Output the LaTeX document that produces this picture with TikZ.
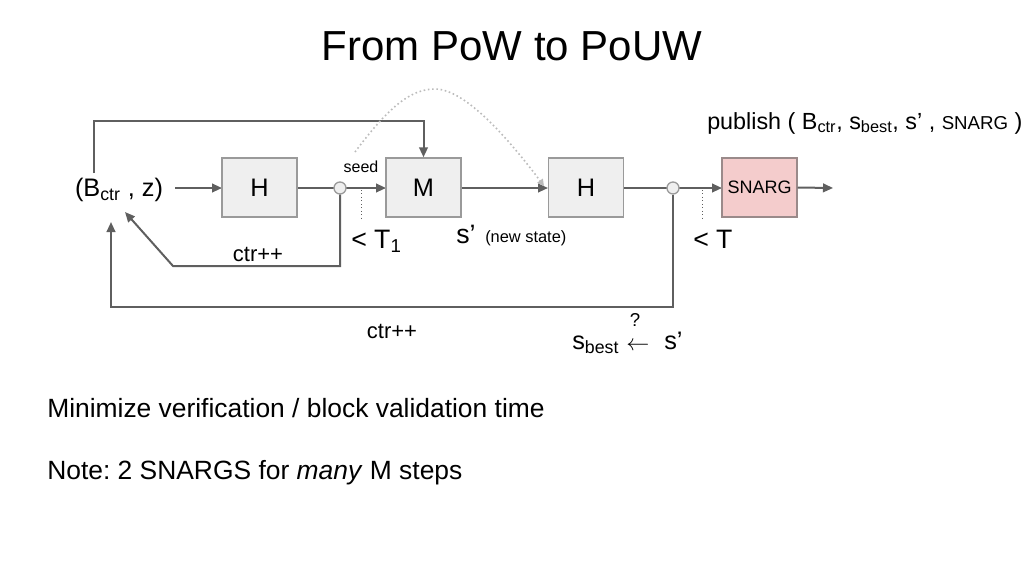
\documentclass[tikz,border=0pt]{standalone}
\usepackage{fontspec}
\setmainfont{Liberation Sans}
\usetikzlibrary{arrows.meta}
\definecolor{lncol}{HTML}{5F5F5F}
\definecolor{boxfill}{HTML}{EFEFEF}
\definecolor{boxdraw}{HTML}{9A9A9A}
\definecolor{snfill}{HTML}{F4CCCC}
\definecolor{sndraw}{HTML}{9A8A8A}
\definecolor{dotcol}{HTML}{BBBBBB}
\newcommand\fsz[1]{\fontsize{#1}{#1}\selectfont}
\frenchspacing
\begin{document}
\begin{tikzpicture}[x=0.75pt,y=-0.75pt,
  blk/.style={draw=boxdraw, fill=boxfill, line width=1.1pt, minimum width=56.25pt, minimum height=44.25pt, inner sep=0pt, font=\fsz{19}},
  snblk/.style={blk, fill=snfill, draw=sndraw, font=\fsz{13.5}},
  junc/.style={circle, draw=boxdraw, fill=boxfill, line width=1pt, minimum size=9pt, inner sep=0pt},
  ln/.style={draw=lncol, line width=1.5pt},
  arr/.style={ln, -{Triangle[length=7.5pt,width=6.5pt]}},
  dotv/.style={draw=lncol, line width=0.6pt, dotted},
  lbl/.style={inner sep=0pt, text=black}]
\useasboundingbox (0,0) rectangle (1024,576);

% title
\node[lbl, font=\fsz{31.5}] (title) at (512,46) {From PoW to PoUW};

% input coordinates
\coordinate (bzout) at (175,188);
\coordinate (bztop) at (94,173);
\coordinate (in1) at (125,212);
\coordinate (in2) at (111,222);
\coordinate (out) at (833,188);
\coordinate (c1p) at (340,188);
\coordinate (c2p) at (673,188);

% connectors first (drawn under the boxes)
\draw[arr] (bzout) -- (222,188);
\draw[ln] (297,188) -- (c1p);
\draw[arr] (c1p) -- (386,188);
\draw[arr] (461,188) -- (548,188);
\draw[ln] (624,188) -- (c2p);
\draw[arr] (c2p) -- (722,188);

% blocks
\node[blk] (h1) at (259.5,187.5) {H};
\node[blk] (m) at (423.5,187.5) {M};
\node[blk] (h2) at (586,187.5) {H};
\node[snblk] (sn) at (759.5,187.5) {SNARG};
\node[junc] (c1) at (c1p) {};
\node[junc] (c2) at (c2p) {};

\node[lbl, font=\fsz{19}] (bz) at (119,190) {(B\textsubscript{ctr} , z)};

\draw[arr] (sn.east) -- (out);

% top feedback into M
\draw[arr] (bztop) -- (94,121) -| (m.north);

% inner loop
\draw[arr] (c1.south) |- (173,266) -- (in1);
% outer loop
\draw[arr] (c2.south) |- (111,307) -- (in2);

% dotted thresholds
\draw[dotv] (361,190) -- (361,221);
\draw[dotv] (702,190) -- (702,221);

% dotted arc
\draw[draw=dotcol, line width=1.2pt, dotted, -{Triangle[length=5pt,width=5pt,fill=dotcol,color=dotcol]}]
  (355,152) .. controls (388,108) and (410,89) .. (435,89) .. controls (465,89) and (508,138) .. (544,186);

% labels
\node[lbl, font=\fsz{12}] (seed) at (361,167) {seed};
\node[lbl, font=\fsz{20}, anchor=base west] (t1) at (351,248) {< T\textsubscript{1}};
\node[lbl, font=\fsz{20}, anchor=base west] (sp) at (456,243) {s’};
\node[lbl, font=\fsz{12.3}, anchor=base west] (ns) at (485,242) {(new state)};
\node[lbl, font=\fsz{20}, anchor=base west] (tt) at (693,248) {< T};
\node[lbl, font=\fsz{16.5}] (ctr1) at (258,254) {ctr++};
\node[lbl, font=\fsz{16.5}] (ctr2) at (392,331) {ctr++};

\node[lbl, font=\fsz{19}, anchor=base west] (sb) at (572,349) {s\textsubscript{best}};
\node[lbl, font=\fsz{19}, anchor=base] (la) at (638,350) {$\smash{\leftarrow}$};
\node[lbl, font=\fsz{14}] (qm) at (635,320) {?};
\node[lbl, font=\fsz{19}, anchor=base west] (sp2) at (664,349) {s’};

\node[lbl, font=\fsz{17.5}, anchor=base west] (pub) at (707,129) {publish ( B\textsubscript{ctr}, s\textsubscript{best}, s’ , {\fsz{14}SNARG} )};

% bottom text
\node[lbl, font=\fsz{19.8}, anchor=base west] (min) at (47,417) {Minimize verification / block validation time};
\node[lbl, font=\fsz{19.8}, anchor=base west] (note) at (47,479) {Note: 2 SNARGS for \textit{many} M steps};
\end{tikzpicture}
\end{document}
